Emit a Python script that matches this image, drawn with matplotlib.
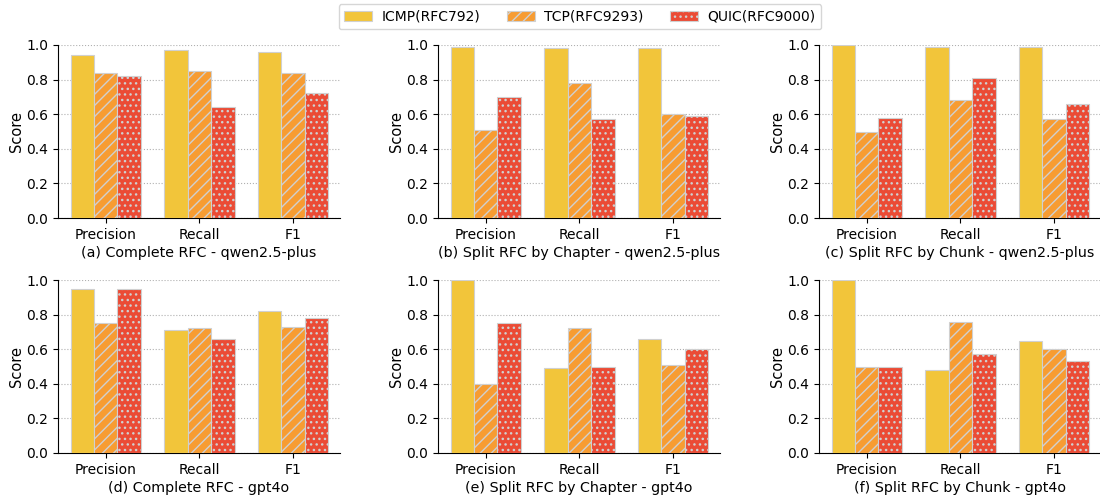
import numpy as np
import matplotlib
matplotlib.use('Agg')
import matplotlib.pyplot as plt

# data
metrics = ['Precision', 'Recall', 'F1']
protocols = ['ICMP(RFC792)', 'TCP(RFC9293)', 'QUIC(RFC9000)']

titles = [
    '(a) Complete RFC - qwen2.5-plus',
    '(b) Split RFC by Chapter - qwen2.5-plus',
    '(c) Split RFC by Chunk - qwen2.5-plus',
    '(d) Complete RFC - gpt4o',
    '(e) Split RFC by Chapter - gpt4o',
    '(f) Split RFC by Chunk - gpt4o',
]

# one row per protocol, columns = Precision, Recall, F1
scores_a = [[0.94, 0.97, 0.96], [0.84, 0.85, 0.84], [0.82, 0.64, 0.72]]
scores_b = [[0.99, 0.98, 0.98], [0.51, 0.78, 0.60], [0.70, 0.57, 0.59]]
scores_c = [[1.00, 0.99, 0.99], [0.50, 0.68, 0.57], [0.58, 0.81, 0.66]]
scores_d = [[0.95, 0.71, 0.82], [0.75, 0.72, 0.73], [0.95, 0.66, 0.78]]
scores_e = [[1.00, 0.49, 0.66], [0.40, 0.72, 0.51], [0.75, 0.50, 0.60]]
scores_f = [[1.00, 0.48, 0.65], [0.50, 0.76, 0.60], [0.50, 0.57, 0.53]]

all_scores = [scores_a, scores_b, scores_c, scores_d, scores_e, scores_f]

colors = ['#F2C53A', '#F79C32', '#EB4B35']
hatches = ['', '///', '...']

plt.rcParams['hatch.color'] = '#cfcfcf'
plt.rcParams['hatch.linewidth'] = 1.0

fig = plt.figure(figsize=(11, 4.99), dpi=100)

# axes positions in pixels (left, right) per column, (top, bottom) per row
col_px = [(58, 340), (438, 720), (819, 1101)]
row_px = [(45, 218), (280, 453)]
W, H = 1100, 499

x = np.arange(len(metrics))
width = 0.25
handles = None

for i, scores in enumerate(all_scores):
    r, c = divmod(i, 3)
    l, rr = col_px[c]
    t, b = row_px[r]
    ax = fig.add_axes([l / W, 1 - b / H, (rr - l) / W, (b - t) / H])
    bars = []
    for k in range(3):
        bc = ax.bar(x + (k - 1) * width, scores[k], width,
                    color=colors[k], hatch=hatches[k],
                    edgecolor='#d0d0d0', linewidth=0.8,
                    label=protocols[k], zorder=3)
        bars.append(bc)
    if handles is None:
        handles = bars
    ax.set_xlim(-0.51, 2.5)
    ax.set_ylim(0, 1.0)
    ax.set_xticks(x)
    ax.set_xticklabels(metrics, fontsize=10)
    ax.set_yticks(np.arange(0, 1.01, 0.2))
    ax.tick_params(axis='y', labelsize=10)
    ax.set_ylabel('Score', fontsize=10.5, labelpad=1.5)
    ax.set_xlabel(titles[i], fontsize=10.3, labelpad=3)
    ax.yaxis.grid(True, linestyle=':', color='#b0b0b0', linewidth=0.8, zorder=0)
    ax.spines['top'].set_visible(False)
    ax.spines['right'].set_visible(False)

fig.legend(handles, protocols, loc='upper center', ncol=3,
           bbox_to_anchor=(580 / W, 1.0), fontsize=10, frameon=True,
           handlelength=2.0, handletextpad=0.7, columnspacing=1.9,
           borderaxespad=0.3)

fig.savefig('out.png', dpi=100)
